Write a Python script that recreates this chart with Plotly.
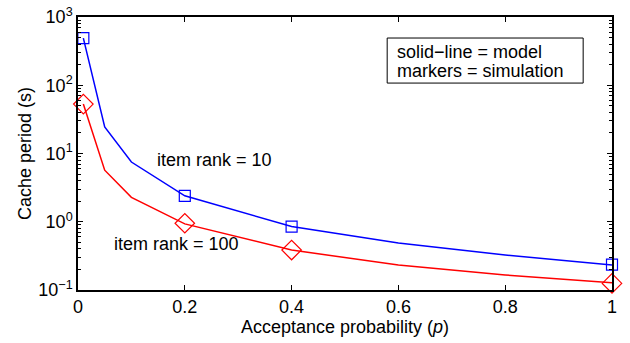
import plotly.graph_objects as go

# model curves
p_model = [0.01, 0.05, 0.1, 0.2, 0.4, 0.6, 0.8, 1.0]
model_rank10 = [490, 24.5, 7.5, 2.4, 0.85, 0.49, 0.326, 0.232]
model_rank100 = [53, 5.7, 2.28, 0.93, 0.385, 0.232, 0.166, 0.128]

# simulation markers
p_sim = [0.01, 0.2, 0.4, 1.0]
sim_rank10 = [490, 2.4, 0.85, 0.235]
sim_rank100 = [53, 0.95, 0.385, 0.125]

x_ticks = [0, 0.2, 0.4, 0.6, 0.8, 1]
x_ticktext = ["0", "0.2", "0.4", "0.6", "0.8", "1"]
y_ticks = [0.1, 1, 10, 100, 1000]
y_ticktext = ["10<sup>−1</sup>", "10<sup>0</sup>", "10<sup>1</sup>", "10<sup>2</sup>", "10<sup>3</sup>"]
y_minor = [d * k for d in [0.1, 1, 10, 100] for k in range(2, 10)]

FONT = "Liberation Sans, Arial, sans-serif"
FS = 18

fig = go.Figure()
fig.add_trace(go.Scatter(x=p_model, y=model_rank10, mode="lines",
                         line=dict(color="#0000ff", width=1.5), showlegend=False))
fig.add_trace(go.Scatter(x=p_model, y=model_rank100, mode="lines",
                         line=dict(color="#ff0000", width=1.5), showlegend=False))
fig.add_trace(go.Scatter(x=p_sim, y=sim_rank10, mode="markers",
                         marker=dict(symbol="square-open", size=11, color="#0000ff",
                                     line=dict(width=1.2)), showlegend=False, cliponaxis=False))
fig.add_trace(go.Scatter(x=p_sim, y=sim_rank100, mode="markers",
                         marker=dict(symbol="diamond-open", size=15, color="#ff0000",
                                     line=dict(width=1.2)), showlegend=False, cliponaxis=False))

fig.add_annotation(x=0.144, y=0.91, xref="x", yref="y", yanchor="middle",
                   text="item rank = 10", showarrow=False, xanchor="left",
                   font=dict(family=FONT, size=FS, color="black"))
fig.add_annotation(x=0.064, y=-0.33, xref="x", yref="y", yanchor="middle",
                   text="item rank = 100", showarrow=False, xanchor="left",
                   font=dict(family=FONT, size=FS, color="black"))

# note box
fig.add_shape(type="rect", xref="paper", yref="paper", x0=0.579, x1=0.946, y0=0.758, y1=0.923,
              line=dict(color="black", width=1), fillcolor="white", layer="above")
fig.add_annotation(x=0.593, y=0.872, xref="paper", yref="paper", xanchor="left", yanchor="middle",
                   text="solid−line = model", showarrow=False,
                   font=dict(family=FONT, size=FS, color="black"))
fig.add_annotation(x=0.593, y=0.801, xref="paper", yref="paper", xanchor="left", yanchor="middle",
                   text="markers = simulation", showarrow=False,
                   font=dict(family=FONT, size=FS, color="black"))

fig.update_layout(
    width=630, height=343,
    margin=dict(l=78, r=18, t=17, b=53, autoexpand=False),
    paper_bgcolor="white", plot_bgcolor="white",
    font=dict(family=FONT, size=FS, color="black"),
    xaxis=dict(range=[0, 1], tickvals=x_ticks, ticktext=x_ticktext,
               ticks="inside", ticklen=5, tickcolor="black", automargin=False,
               showline=True, linecolor="black", linewidth=1.5, mirror="ticks",
               showgrid=False, zeroline=False, tickfont=dict(size=FS),
               title=dict(text="Acceptance probability (<i>p</i>)", standoff=3,
                          font=dict(size=FS))),
    yaxis=dict(type="log", range=[-1, 3], tickvals=y_ticks, ticktext=y_ticktext,
               ticks="inside", ticklen=5, tickcolor="black", automargin=False,
               minor=dict(tickmode="array", tickvals=y_minor, ticks="inside", ticklen=3,
                          tickwidth=1, tickcolor="black", showgrid=False),
               showline=True, linecolor="black", linewidth=1.5, mirror="ticks",
               showgrid=False, zeroline=False, tickfont=dict(size=FS),
               title=dict(text="Cache period (s)", standoff=2, font=dict(size=FS))),
)

fig.write_html("out.html", config={"displayModeBar": False},
               post_script="document.body.style.margin='0';")
